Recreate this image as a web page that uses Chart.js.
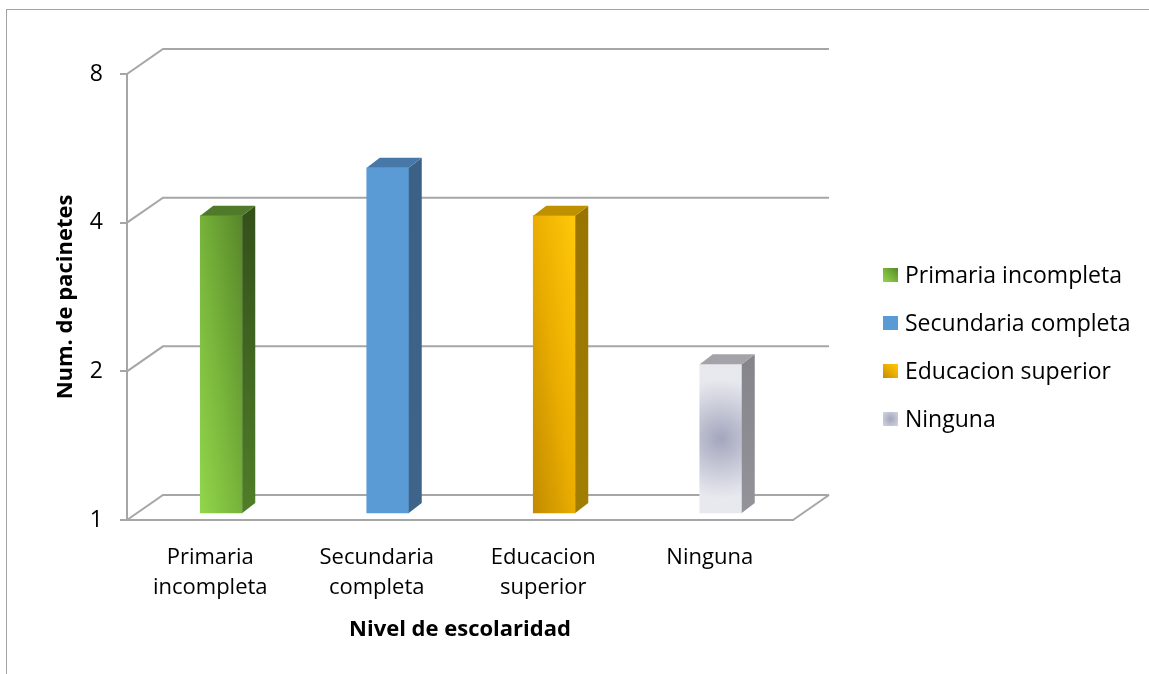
<!DOCTYPE html>
<html>
<head>
<meta charset="utf-8">
<script src="https://cdn.jsdelivr.net/npm/chart.js@4.4.1/dist/chart.umd.min.js"></script>
<style>
  html, body { margin: 0; padding: 0; background: #fff; overflow: hidden; }
  #wrap { position: relative; width: 1149px; height: 674px; }
  #frame { position: absolute; left: 6px; top: 9px; width: 1200px; height: 700px; border: 1px solid #a3a3a3; }
  canvas { position: absolute; left: 0; top: 0; }
</style>
</head>
<body>
<div id="wrap">
  <div id="frame"></div>
  <canvas id="chart" width="1149" height="674"></canvas>
</div>
<script>
// Education level of the patients
const categories = ['Primaria incompleta', 'Secundaria completa', 'Educacion superior', 'Ninguna'];
const patientCounts = [4, 5, 4, 2];
const yTickValues = [1, 2, 4, 8];
const yTitle = 'Num. de pacinetes';
const xTitle = 'Nivel de escolaridad';

const FONT = "'Open Sans', 'Liberation Sans', sans-serif";
const LINE = '#a6a6a6';
const BAR_W = 42;
const WALL_DX = 36, WALL_DY = 25;   // depth of the side wall / floor
const BAR_DX = 11, BAR_DY = 7;      // bars stand slightly behind the front plane
const SIDE_DX = 13, SIDE_DY = 10;   // thickness of each bar

// Face shading for each bar
const frontStyles = [
  { type: 'diag', stops: [[0, '#93d64b'], [0.5, '#76b23a'], [1, '#578629']] },
  { type: 'flat', color: '#5b9bd5' },
  { type: 'diag', stops: [[0, '#c28b00'], [0.5, '#eaad00'], [1, '#ffc90a']] },
  { type: 'radial', stops: [[0, '#a3a6bd'], [0.55, '#caccd9'], [1, '#e8e9ef']] }
];
const sideColors = [['#34511a', '#4f7e28'], ['#3c6186', '#3e6489'], ['#997500', '#a27e00'], ['#85858b', '#939399']];
const topColors = ['#4f7a29', '#4778a8', '#bf9000', '#a3a3a9'];

function makeFill(ctx, style, l, t, r, b) {
  if (style.type === 'flat') return style.color;
  let g;
  if (style.type === 'diag') {
    const a = 0.5 / (r - l), c = 0.5 / (b - t), n = a * a + c * c;
    g = ctx.createLinearGradient(l, b, l + a / n, b - c / n);
  } else {
    const cx = (l + r) / 2, cy = (t + b) / 2;
    const rad = Math.max(r - l, (b - t) * 0.4);
    g = ctx.createRadialGradient(cx, cy, 0, cx, cy, rad);
  }
  style.stops.forEach(([o, col]) => g.addColorStop(o, col));
  return g;
}

function splitLabel(name) {
  const k = name.indexOf(' ');
  return k < 0 ? name : [name.slice(0, k), name.slice(k + 1)];
}

const depthPlugin = {
  id: 'depth3d',
  beforeDatasetsDraw(chart) {
    const { ctx, chartArea: { left, right, bottom }, scales: { y } } = chart;
    ctx.save();
    ctx.strokeStyle = LINE;
    ctx.lineWidth = 2;
    yTickValues.forEach(v => {
      const py = y.getPixelForValue(v);
      ctx.beginPath();
      ctx.moveTo(left, py);
      ctx.lineTo(left + WALL_DX, py - WALL_DY);
      ctx.lineTo(right + WALL_DX, py - WALL_DY);
      ctx.stroke();
    });
    ctx.beginPath();
    ctx.moveTo(right, bottom);
    ctx.lineTo(right + WALL_DX, bottom - WALL_DY);
    ctx.stroke();
    ctx.restore();
    // bars are drawn a little deeper than the front plane
    ctx.save();
    ctx.translate(BAR_DX, -BAR_DY);
  },
  afterDatasetsDraw(chart) {
    const ctx = chart.ctx;
    chart.getDatasetMeta(0).data.forEach((bar, i) => {
      const { x, y, base, width } = bar.getProps(['x', 'y', 'base', 'width'], true);
      const l = x - width / 2, r = x + width / 2;
      const sg = ctx.createLinearGradient(0, y, 0, base);
      sg.addColorStop(0, sideColors[i][0]);
      sg.addColorStop(1, sideColors[i][1]);
      ctx.fillStyle = sg;
      ctx.beginPath();
      ctx.moveTo(r, y);
      ctx.lineTo(r + SIDE_DX, y - SIDE_DY);
      ctx.lineTo(r + SIDE_DX, base - SIDE_DY);
      ctx.lineTo(r, base);
      ctx.closePath();
      ctx.fill();
      ctx.fillStyle = topColors[i];
      ctx.beginPath();
      ctx.moveTo(l, y);
      ctx.lineTo(l + SIDE_DX, y - SIDE_DY);
      ctx.lineTo(r + SIDE_DX, y - SIDE_DY);
      ctx.lineTo(r, y);
      ctx.closePath();
      ctx.fill();
    });
    ctx.restore();
  },
  afterDraw(chart) {
    // legend: one entry per education level
    const ctx = chart.ctx;
    const lx = 883, y0 = 275, step = 48;
    ctx.save();
    categories.forEach((name, i) => {
      const cy = y0 + i * step;
      ctx.fillStyle = makeFill(ctx, frontStyles[i], lx, cy - 7, lx + 15, cy + 7);
      ctx.fillRect(lx, cy - 7, 15, 14);
      ctx.fillStyle = '#000';
      ctx.font = '23px ' + FONT;
      ctx.textBaseline = 'middle';
      ctx.textAlign = 'left';
      ctx.fillText(name, lx + 22, cy + 1);
    });
    ctx.restore();
  }
};

new Chart(document.getElementById('chart'), {
  type: 'bar',
  data: {
    labels: categories,
    datasets: [{
      label: yTitle,
      data: patientCounts,
      barThickness: BAR_W,
      borderWidth: 0,
      clip: false,
      backgroundColor: (c) => {
        const chart = c.chart, i = c.dataIndex;
        if (i === undefined || !chart.chartArea || !chart.scales.x) return '#999';
        const { x, y } = chart.scales;
        const cx = x.getPixelForValue(i);
        return makeFill(chart.ctx, frontStyles[i], cx - BAR_W / 2, y.getPixelForValue(patientCounts[i]),
                        cx + BAR_W / 2, y.getPixelForValue(y.min));
      }
    }]
  },
  options: {
    responsive: false,
    animation: false,
    events: [],
    devicePixelRatio: 1,
    layout: { padding: { left: 40, top: 74, right: 356, bottom: 20 } },
    plugins: { legend: { display: false }, tooltip: { enabled: false } },
    scales: {
      x: {
        grid: { display: false, drawTicks: false },
        border: { display: true, color: LINE, width: 2 },
        ticks: {
          color: '#000', font: { family: FONT, size: 22, lineHeight: 1.4 }, padding: 22,
          maxRotation: 0, autoSkip: false,
          callback: (v, i) => splitLabel(categories[i])
        },
        title: { display: true, text: xTitle, color: '#000',
                 font: { family: FONT, size: 22, weight: 'bold' }, padding: { top: 0, bottom: 11 } },
        afterFit: (s) => { s.height = 134; }
      },
      y: {
        type: 'logarithmic', min: 1, max: 8,
        afterBuildTicks: (s) => { s.ticks = yTickValues.map(v => ({ value: v })); },
        afterFit: (s) => { s.width = 87; },
        grid: { drawOnChartArea: false, drawTicks: true, tickLength: 7, color: LINE, lineWidth: 2 },
        border: { display: true, color: LINE, width: 2 },
        ticks: { color: '#000', font: { family: FONT, size: 23 }, padding: 17, callback: (v) => String(v) },
        title: { display: true, text: yTitle, color: '#000',
                 font: { family: FONT, size: 22, weight: 'bold' }, padding: { top: 13, bottom: 0 } }
      }
    }
  },
  plugins: [depthPlugin]
});
</script>
</body>
</html>
